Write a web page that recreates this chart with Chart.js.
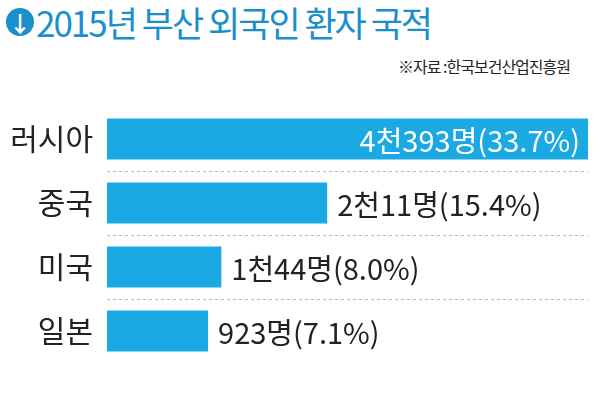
<!DOCTYPE html>
<html><head><meta charset="utf-8">
<script src="https://cdn.jsdelivr.net/npm/chart.js@4"></script>
<style>
body{margin:0;width:600px;height:404px;background:#fff;position:relative;overflow:hidden;font-family:"Noto Sans CJK KR",sans-serif}
#title{position:absolute;left:6px;top:-4px;font-size:35px;color:#1a8fcc;letter-spacing:-2px;white-space:nowrap}
#title .ic{display:inline-block;width:28px;height:28px;border-radius:50%;background:#1a8fcc;color:#fff;font-size:22px;line-height:28px;text-align:center;vertical-align:5px;margin-right:2px;font-weight:bold;letter-spacing:0}
#src{position:absolute;right:30px;top:54px;font-size:16px;color:#222;letter-spacing:-1px}
#c{position:absolute;left:0;top:75px}
</style></head><body>
<div id="title"><span class="ic">↓</span>2015년 부산 외국인 환자 국적</div>
<div id="src">※자료 :한국보건산업진흥원</div>
<canvas id="c" width="600" height="320"></canvas>
<script>
const countries = ['러시아', '중국', '미국', '일본'];
const patients = [4393, 2011, 1044, 923];
const valueLabels = ['4천393명(33.7%)', '2천11명(15.4%)', '1천44명(8.0%)', '923명(7.1%)'];

// value labels: inside the first bar, after the others
const labelPlugin = {
    id: 'labels',
    afterDatasetsDraw(chart) {
        const ctx = chart.ctx;
        const meta = chart.getDatasetMeta(0);
        ctx.save();
        ctx.font = '29px "Noto Sans CJK KR"';
        ctx.textBaseline = 'middle';
        meta.data.forEach((bar, i) => {
            if (i === 0) {
                ctx.fillStyle = '#fff';
                ctx.textAlign = 'right';
                ctx.fillText(valueLabels[i], bar.x - 8, bar.y + 2);
            } else {
                ctx.fillStyle = '#222';
                ctx.textAlign = 'left';
                ctx.fillText(valueLabels[i], bar.x + 10, bar.y + 2);
            }
        });
        ctx.restore();
    }
};

new Chart(document.getElementById('c'), {
    type: 'bar',
    data: {
        labels: countries,
        datasets: [{
            data: patients,
            backgroundColor: '#1aa9e3',
            barPercentage: 0.64,
            categoryPercentage: 1
        }]
    },
    options: {
        indexAxis: 'y',
        responsive: false,
        animation: false,
        layout: { padding: { right: 12, top: 0, bottom: 0 } },
        scales: {
            x: { display: false, min: 0, max: 4393 },
            y: {
                afterFit(axis) { axis.width = 107; },
                border: { display: false, dash: [3, 3] },
                grid: {
                    offset: true,
                    drawTicks: false,
                    color: c => (c.index >= 1 && c.index <= 3) ? '#bbb' : 'transparent'
                },
                ticks: { color: '#222', font: { size: 30, family: 'Noto Sans CJK KR' }, padding: 14 }
            }
        },
        plugins: { legend: { display: false }, tooltip: { enabled: false } }
    },
    plugins: [labelPlugin]
});
</script>
</body></html>
